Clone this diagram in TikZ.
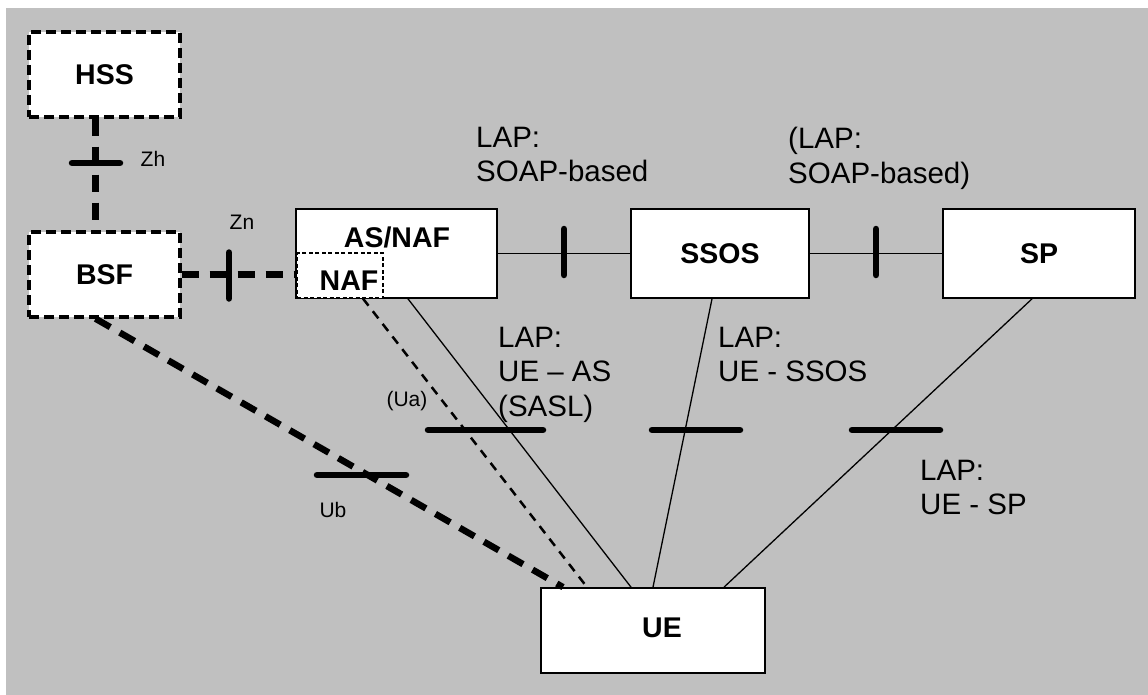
\documentclass[tikz,border=0pt]{standalone}
\usepackage{fontspec}
\setmainfont{Liberation Sans}
\usetikzlibrary{calc}

\definecolor{bggray}{RGB}{192,192,192}

\tikzset{
  box/.style={draw=black, line width=1.7pt, fill=white, inner sep=0pt, font=\fontsize{28.5}{34}\selectfont\bfseries},
  dbox/.style={box, line width=3.3pt, dash pattern=on 10pt off 5pt},
  nafbox/.style={draw=black, line width=1.2pt, dash pattern=on 4pt off 2.5pt, fill=white, inner sep=0pt},
  boxtext/.style={inner sep=0pt, font=\fontsize{28.5}{34}\selectfont\bfseries},
  lap/.style={inner sep=0pt, align=left, anchor=north west, font=\fontsize{29.5}{34.5}\selectfont},
  ref/.style={inner sep=0pt, font=\fontsize{21}{25}\selectfont},
  link/.style={line width=1.3pt},
  thickdash/.style={line width=6.5pt, dash pattern=on 17pt off 11pt},
  thindash/.style={line width=2.5pt, dash pattern=on 9pt off 7pt},
  tickbar/.style={line width=6.5pt, line cap=round}
}

\begin{document}
\begin{tikzpicture}[x=1pt, y=-1pt]

    \useasboundingbox (0,0) rectangle (1148,695);
    \fill[bggray] (6,8) rectangle (1148,695);

    %boxes
    \node[dbox, minimum width=151, minimum height=85] (hss) at (104.5,74.5) {HSS};
    \node[dbox, minimum width=151, minimum height=85] (bsf) at (104.5,274.5) {BSF};
    \node[box, minimum width=201, minimum height=89] (asnaf) at (396.5,253.5) {};
    \node[nafbox, minimum width=86, minimum height=45] (naf) at (340,275.5) {};
    \node[boxtext] (asnaftext) at (397,237) {AS/NAF};
    \node[boxtext] (naftext) at (349,281) {NAF};
    \node[box, minimum width=178, minimum height=89] (ssos) at (720,253.5) {SSOS};
    \node[box, minimum width=192, minimum height=89] (sp) at (1039,253.5) {SP};
    \node[box, minimum width=224, minimum height=85] (ue) at (653,630.5) {};
    \node[boxtext] (uetext) at (662,628) {UE};

    %reference points (dashed)
    \draw[thickdash] ([xshift=-9pt]hss.south) -- ([xshift=-9pt]bsf.north);
    \draw[thickdash] (bsf.east) -- (bsf.east -| asnaf.west);
    \draw[thickdash] ([xshift=-9pt]bsf.south) -- ([xshift=-90pt]ue.north);
    \draw[thindash] ([xshift=23pt]naf.south) -- ([xshift=-66pt]ue.north);

    %LAP links
    \draw[link] (asnaf.east) -- (ssos.west);
    \draw[link] (ssos.east) -- (sp.west);
    \draw[link] ([xshift=11.5pt]asnaf.south) -- ([xshift=-22pt]ue.north);
    \draw[link] ([xshift=-8pt]ssos.south) -- (ue.north);
    \draw[link] ([xshift=-7pt]sp.south) -- ([xshift=71pt]ue.north);

    %ticks
    \foreach \x/\y/\w in {361.5/475/44.5, 485.5/430/57.5, 696/430/44, 896/430/44, 96/163/24}
    \draw[tickbar] (\x-\w,\y) -- (\x+\w,\y);
    \foreach \x/\y in {564/252, 876/252, 229/275.5}
    \draw[tickbar] (\x,\y-23) -- (\x,\y+23);

    %labels
    \node[lap] (lapsoap) at (476,127) {LAP:\\SOAP-based};
    \node[lap] (lapsoapsp) at (788,127) {(LAP:\\SOAP-based)};
    \node[lap] (lapas) at (498,327) {LAP:\\UE – AS\\(SASL)};
    \node[lap] (lapssos) at (718,327) {LAP:\\UE - SSOS};
    \node[lap] (lapsp) at (920,460) {LAP:\\UE - SP};
    \node[ref] (zh) at (153,159) {Zh};
    \node[ref] (zn) at (242,222) {Zn};
    \node[ref] (ua) at (407,401) {(Ua)};
    \node[ref] (ub) at (333,510) {Ub};

\end{tikzpicture}
\end{document}
